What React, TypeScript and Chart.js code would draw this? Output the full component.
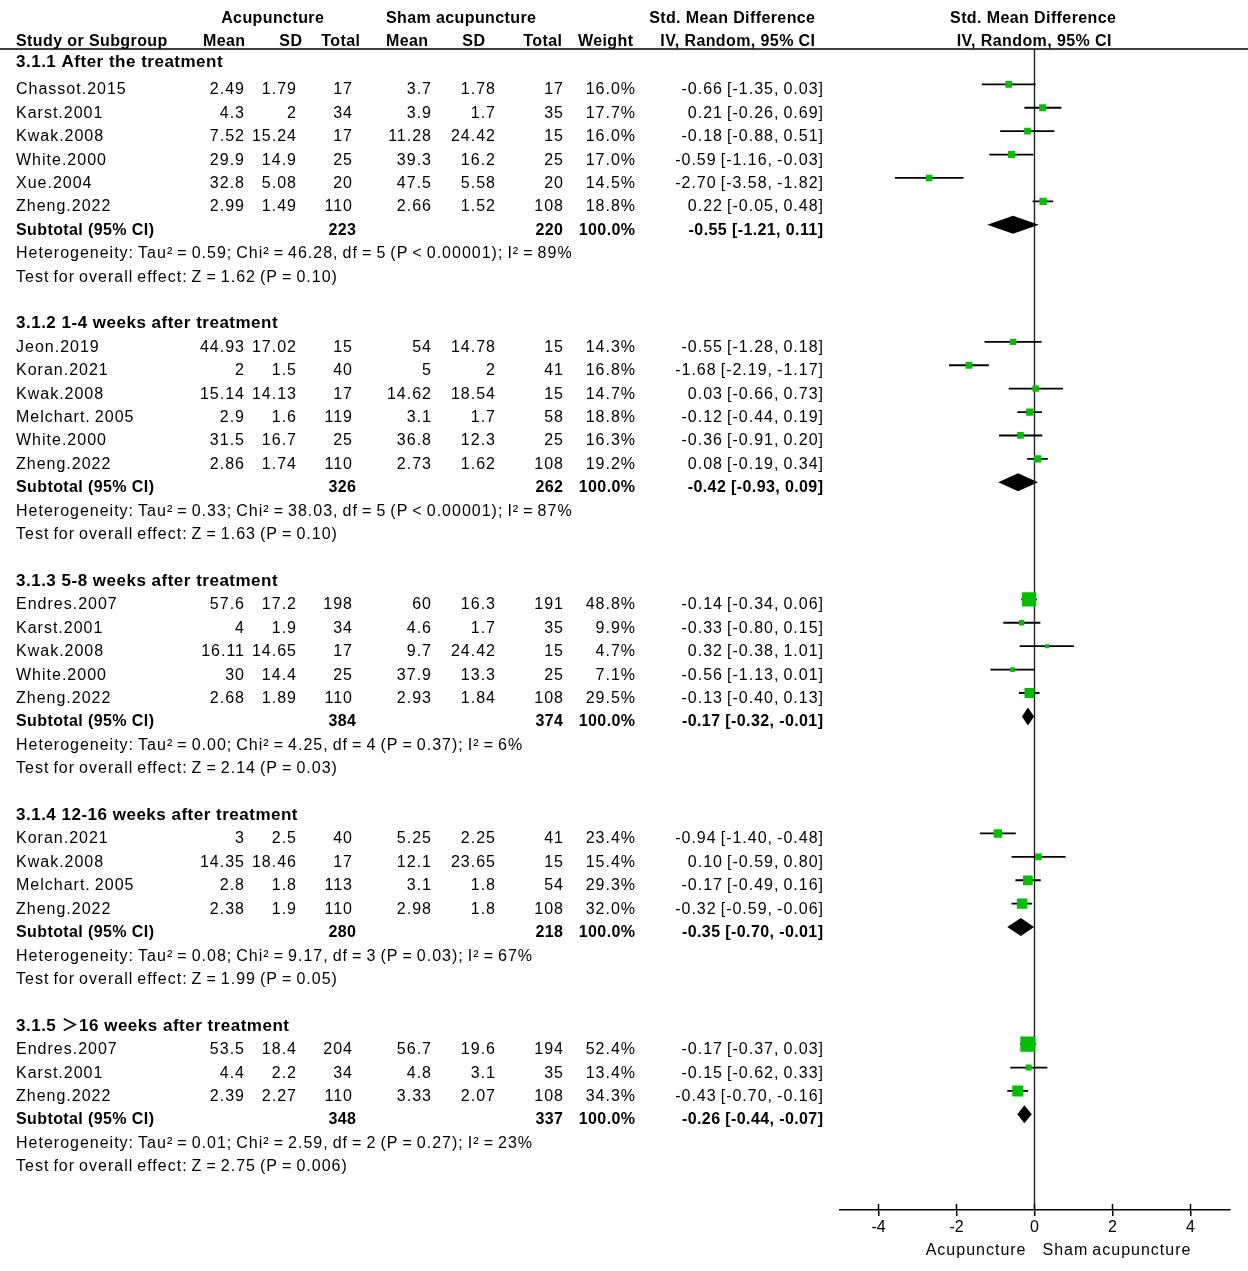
import React, { useEffect, useRef } from "react";
import { Chart, registerables } from "chart.js";

Chart.register(...registerables);

// ---------------- data ----------------
const groupTitles = [
  "3.1.1 After the treatment",
  "3.1.2 1-4 weeks after treatment",
  "3.1.3 5-8 weeks after treatment",
  "3.1.4 12-16 weeks after treatment",
  "3.1.5 ＞16 weeks after treatment",
];
const studyGroup = [0, 0, 0, 0, 0, 0, 1, 1, 1, 1, 1, 1, 2, 2, 2, 2, 2, 3, 3, 3, 3, 4, 4, 4];
const studyNames = [
  "Chassot.2015", "Karst.2001", "Kwak.2008", "White.2000", "Xue.2004", "Zheng.2022",
  "Jeon.2019", "Koran.2021", "Kwak.2008", "Melchart. 2005", "White.2000", "Zheng.2022",
  "Endres.2007", "Karst.2001", "Kwak.2008", "White.2000", "Zheng.2022",
  "Koran.2021", "Kwak.2008", "Melchart. 2005", "Zheng.2022",
  "Endres.2007", "Karst.2001", "Zheng.2022",
];
const acuMean = [2.49, 4.3, 7.52, 29.9, 32.8, 2.99, 44.93, 2, 15.14, 2.9, 31.5, 2.86, 57.6, 4, 16.11, 30, 2.68, 3, 14.35, 2.8, 2.38, 53.5, 4.4, 2.39];
const acuSD = [1.79, 2, 15.24, 14.9, 5.08, 1.49, 17.02, 1.5, 14.13, 1.6, 16.7, 1.74, 17.2, 1.9, 14.65, 14.4, 1.89, 2.5, 18.46, 1.8, 1.9, 18.4, 2.2, 2.27];
const acuTotal = [17, 34, 17, 25, 20, 110, 15, 40, 17, 119, 25, 110, 198, 34, 17, 25, 110, 40, 17, 113, 110, 204, 34, 110];
const shamMean = [3.7, 3.9, 11.28, 39.3, 47.5, 2.66, 54, 5, 14.62, 3.1, 36.8, 2.73, 60, 4.6, 9.7, 37.9, 2.93, 5.25, 12.1, 3.1, 2.98, 56.7, 4.8, 3.33];
const shamSD = [1.78, 1.7, 24.42, 16.2, 5.58, 1.52, 14.78, 2, 18.54, 1.7, 12.3, 1.62, 16.3, 1.7, 24.42, 13.3, 1.84, 2.25, 23.65, 1.8, 1.8, 19.6, 3.1, 2.07];
const shamTotal = [17, 35, 15, 25, 20, 108, 15, 41, 15, 58, 25, 108, 191, 35, 15, 25, 108, 41, 15, 54, 108, 194, 35, 108];
const weights = [16.0, 17.7, 16.0, 17.0, 14.5, 18.8, 14.3, 16.8, 14.7, 18.8, 16.3, 19.2, 48.8, 9.9, 4.7, 7.1, 29.5, 23.4, 15.4, 29.3, 32.0, 52.4, 13.4, 34.3];
const smd = [-0.66, 0.21, -0.18, -0.59, -2.7, 0.22, -0.55, -1.68, 0.03, -0.12, -0.36, 0.08, -0.14, -0.33, 0.32, -0.56, -0.13, -0.94, 0.1, -0.17, -0.32, -0.17, -0.15, -0.43];
const ciLow = [-1.35, -0.26, -0.88, -1.16, -3.58, -0.05, -1.28, -2.19, -0.66, -0.44, -0.91, -0.19, -0.34, -0.8, -0.38, -1.13, -0.4, -1.4, -0.59, -0.49, -0.59, -0.37, -0.62, -0.7];
const ciHigh = [0.03, 0.69, 0.51, -0.03, -1.82, 0.48, 0.18, -1.17, 0.73, 0.19, 0.2, 0.34, 0.06, 0.15, 1.01, 0.01, 0.13, -0.48, 0.8, 0.16, -0.06, 0.03, 0.33, -0.16];

const subAcuTotal = [223, 326, 384, 280, 348];
const subShamTotal = [220, 262, 374, 218, 337];
const subSmd = [-0.55, -0.42, -0.17, -0.35, -0.26];
const subLow = [-1.21, -0.93, -0.32, -0.7, -0.44];
const subHigh = [0.11, 0.09, -0.01, -0.01, -0.07];
const tau2 = ["0.59", "0.33", "0.00", "0.08", "0.01"];
const chi2 = ["46.28", "38.03", "4.25", "9.17", "2.59"];
const dfs = [5, 5, 4, 3, 2];
const pHet = ["< 0.00001", "< 0.00001", "= 0.37", "= 0.03", "= 0.27"];
const i2 = [89, 87, 6, 67, 23];
const zOverall = ["1.62", "1.63", "2.14", "1.99", "2.75"];
const pOverall = ["0.10", "0.10", "0.03", "0.05", "0.006"];

const xTicks = [-4, -2, 0, 2, 4];
const leftAxisLabel = "Acupuncture";
const rightAxisLabel = "Sham acupuncture";

// ---------------- layout ----------------
const W = 1248;
const H = 1271;
const ROW0 = 14.1; // pixel of row 0 (marker centre)
const PITCH = 23.41;
const PLOT_TOP = 49;
const PLOT_BOTTOM = 1210;
const TEXT_DY = 10;
const FONT = '"Liberation Sans", Arial, "Noto Sans CJK SC", sans-serif';
const GREEN = "#00bf00";

type RowItem = { kind: string; i: number; r: number };
const rows: RowItem[] = [];
const studyRow: number[] = [];
const subRow: number[] = [];
(() => {
  let r = 2;
  groupTitles.forEach((_, g) => {
    rows.push({ kind: "group", i: g, r: g === 0 ? r - 0.15 : r });
    r++;
    studyGroup.forEach((sg, i) => {
      if (sg === g) {
        rows.push({ kind: "study", i, r });
        studyRow[i] = r;
        r++;
      }
    });
    rows.push({ kind: "subtotal", i: g, r });
    subRow[g] = r;
    r++;
    rows.push({ kind: "het", i: g, r });
    r++;
    rows.push({ kind: "test", i: g, r });
    r++;
    r++;
  });
})();

const COL = {
  acuMean: 244,
  acuSD: 296,
  acuTotal: 352,
  shamMean: 431,
  shamSD: 495,
  shamTotal: 563,
  weight: 635,
  ci: 823,
};

function ciText(m: number, lo: number, hi: number) {
  return `${m.toFixed(2)} [${lo.toFixed(2)}, ${hi.toFixed(2)}]`;
}

type Style = "regular" | "bold" | "title";

function drawText(
  ctx: CanvasRenderingContext2D,
  s: string,
  x: number,
  y: number,
  align: CanvasTextAlign,
  style: Style | boolean
) {
  const st: Style = style === true ? "bold" : style === false ? "regular" : style;
  const sp = st === "regular" ? 1 : st === "bold" ? 0.4 : 0.5;
  const size = st === "title" ? 17 : 16;
  ctx.font = `${st === "regular" ? "" : "bold "}${size}px ${FONT}`;
  (ctx as any).letterSpacing = `${sp}px`;
  (ctx as any).wordSpacing = st === "regular" ? "-1.4px" : "0px";
  ctx.textAlign = align;
  ctx.textBaseline = "alphabetic";
  const dx = align === "right" ? sp : align === "center" ? sp / 2 : 0;
  ctx.fillText(s, x + dx, y);
}

const tablePlugin = {
  id: "forestTable",
  beforeDatasetsDraw(chart: any) {
    const ctx: CanvasRenderingContext2D = chart.ctx;
    const xs = chart.scales.x;
    const area = chart.chartArea;
    ctx.save();
    // header rule
    ctx.strokeStyle = "#000";
    ctx.lineWidth = 1.5;
    ctx.beginPath();
    ctx.moveTo(0, PLOT_TOP);
    ctx.lineTo(W, PLOT_TOP);
    ctx.stroke();
    // line of no effect
    const x0 = xs.getPixelForValue(0);
    ctx.strokeStyle = "#222";
    ctx.lineWidth = 1.4;
    ctx.beginPath();
    ctx.moveTo(x0, PLOT_TOP);
    ctx.lineTo(x0, area.bottom);
    ctx.stroke();
    // upper half of tick marks
    ctx.strokeStyle = "#000";
    ctx.lineWidth = 1.5;
    xTicks.forEach((t) => {
      const px = xs.getPixelForValue(t);
      ctx.beginPath();
      ctx.moveTo(px, area.bottom - 6);
      ctx.lineTo(px, area.bottom);
      ctx.stroke();
    });
    ctx.restore();
  },
  afterDatasetsDraw(chart: any) {
    const ctx: CanvasRenderingContext2D = chart.ctx;
    const xs = chart.scales.x;
    const ys = chart.scales.y;
    ctx.save();
    ctx.fillStyle = "#000";
    subSmd.forEach((m, g) => {
      const py = ys.getPixelForValue(subRow[g]);
      ctx.beginPath();
      ctx.moveTo(xs.getPixelForValue(subLow[g]), py);
      ctx.lineTo(xs.getPixelForValue(m), py - 9);
      ctx.lineTo(xs.getPixelForValue(subHigh[g]), py);
      ctx.lineTo(xs.getPixelForValue(m), py + 9);
      ctx.closePath();
      ctx.fill();
    });
    ctx.restore();
  },
  afterDraw(chart: any) {
    const ctx: CanvasRenderingContext2D = chart.ctx;
    const xs = chart.scales.x;
    const ys = chart.scales.y;
    const by = (r: number) => ys.getPixelForValue(r) + TEXT_DY;
    ctx.save();
    ctx.fillStyle = "#000";
    // header rows
    const h0 = by(-0.05);
    const h1 = by(0.93);
    drawText(ctx, "Acupuncture", 272.5, h0, "center", true);
    drawText(ctx, "Sham acupuncture", 461, h0, "center", true);
    drawText(ctx, "Std. Mean Difference", 815, h0, "right", true);
    drawText(ctx, "Std. Mean Difference", 1033, h0, "center", true);
    drawText(ctx, "Study or Subgroup", 16, h1, "left", true);
    drawText(ctx, "Mean", 245, h1, "right", true);
    drawText(ctx, "SD", 302, h1, "right", true);
    drawText(ctx, "Total", 360, h1, "right", true);
    drawText(ctx, "Mean", 428, h1, "right", true);
    drawText(ctx, "SD", 485, h1, "right", true);
    drawText(ctx, "Total", 562, h1, "right", true);
    drawText(ctx, "Weight", 633, h1, "right", true);
    drawText(ctx, "IV, Random, 95% CI", 815, h1, "right", true);
    drawText(ctx, "IV, Random, 95% CI", 1034, h1, "center", true);

    rows.forEach((row) => {
      const y = by(row.r);
      const i = row.i;
      if (row.kind === "group") {
        drawText(ctx, groupTitles[i], 16, y, "left", "title");
      } else if (row.kind === "study") {
        drawText(ctx, studyNames[i], 16, y, "left", false);
        drawText(ctx, String(acuMean[i]), COL.acuMean, y, "right", false);
        drawText(ctx, String(acuSD[i]), COL.acuSD, y, "right", false);
        drawText(ctx, String(acuTotal[i]), COL.acuTotal, y, "right", false);
        drawText(ctx, String(shamMean[i]), COL.shamMean, y, "right", false);
        drawText(ctx, String(shamSD[i]), COL.shamSD, y, "right", false);
        drawText(ctx, String(shamTotal[i]), COL.shamTotal, y, "right", false);
        drawText(ctx, `${weights[i].toFixed(1)}%`, COL.weight, y, "right", false);
        drawText(ctx, ciText(smd[i], ciLow[i], ciHigh[i]), COL.ci, y, "right", false);
      } else if (row.kind === "subtotal") {
        drawText(ctx, "Subtotal (95% CI)", 16, y, "left", true);
        drawText(ctx, String(subAcuTotal[i]), COL.acuTotal + 4, y, "right", true);
        drawText(ctx, String(subShamTotal[i]), COL.shamTotal, y, "right", true);
        drawText(ctx, "100.0%", COL.weight, y, "right", true);
        drawText(ctx, ciText(subSmd[i], subLow[i], subHigh[i]), COL.ci, y, "right", true);
      } else if (row.kind === "het") {
        drawText(
          ctx,
          `Heterogeneity: Tau² = ${tau2[i]}; Chi² = ${chi2[i]}, df = ${dfs[i]} (P ${pHet[i]}); I² = ${i2[i]}%`,
          16,
          y,
          "left",
          false
        );
      } else if (row.kind === "test") {
        drawText(ctx, `Test for overall effect: Z = ${zOverall[i]} (P = ${pOverall[i]})`, 16, y, "left", false);
      }
    });

    // axis captions
    const x0 = xs.getPixelForValue(0);
    drawText(ctx, leftAxisLabel, x0 - 9, 1255, "right", false);
    drawText(ctx, rightAxisLabel, x0 + 8, 1255, "left", false);
    ctx.restore();
  },
};

export default function App() {
  const ref = useRef<HTMLCanvasElement>(null);
  useEffect(() => {
    const canvas = ref.current;
    if (!canvas) return;
    const ciSets = smd.map((_, i) => ({
      type: "line" as const,
      data: [
        { x: ciLow[i], y: studyRow[i] },
        { x: ciHigh[i], y: studyRow[i] },
      ],
      borderColor: "#000",
      borderWidth: 1.8,
      pointRadius: 0,
      fill: false,
      order: 2,
    }));
    const squares = {
      type: "scatter" as const,
      data: smd.map((v, i) => ({ x: v, y: studyRow[i] })),
      pointStyle: "rect",
      pointRadius: weights.map((w) => (3 + 0.23 * w) / Math.SQRT2),
      backgroundColor: GREEN,
      borderWidth: 0,
      order: 1,
    };
    const yMin = (PLOT_TOP - ROW0) / PITCH;
    const yMax = (PLOT_BOTTOM - ROW0) / PITCH;
    const chart = new Chart(canvas, {
      type: "scatter",
      data: { datasets: [squares as any, ...ciSets] },
      options: {
        responsive: false,
        maintainAspectRatio: false,
        animation: false,
        devicePixelRatio: 1,
        layout: { padding: { left: 839.5, right: W - 1229.5, top: PLOT_TOP, bottom: 0 } },
        plugins: { legend: { display: false }, tooltip: { enabled: false } },
        scales: {
          x: {
            type: "linear",
            min: -5,
            max: 5,
            afterBuildTicks: (s: any) => {
              s.ticks = xTicks.map((v) => ({ value: v }));
            },
            afterFit: (s: any) => {
              s.height = H - PLOT_BOTTOM;
            },
            border: { display: true, color: "#000", width: 1.5 },
            grid: { display: true, drawOnChartArea: false, drawTicks: true, tickLength: 6, color: "#000", lineWidth: 1.5 },
            ticks: {
              color: "#000",
              font: { family: FONT, size: 16 },
              padding: 2,
              maxRotation: 0,
              autoSkip: false,
              callback: (v: any) => String(v),
            },
          },
          y: {
            type: "linear",
            display: false,
            reverse: true,
            min: yMin,
            max: yMax,
          },
        },
      },
      plugins: [tablePlugin],
    });
    return () => chart.destroy();
  }, []);
  return (
    <div style={{ position: "fixed", left: 0, top: 0, width: W, height: H, background: "#fff" }}>
      <canvas ref={ref} width={W} height={H} style={{ display: "block" }} />
    </div>
  );
}
